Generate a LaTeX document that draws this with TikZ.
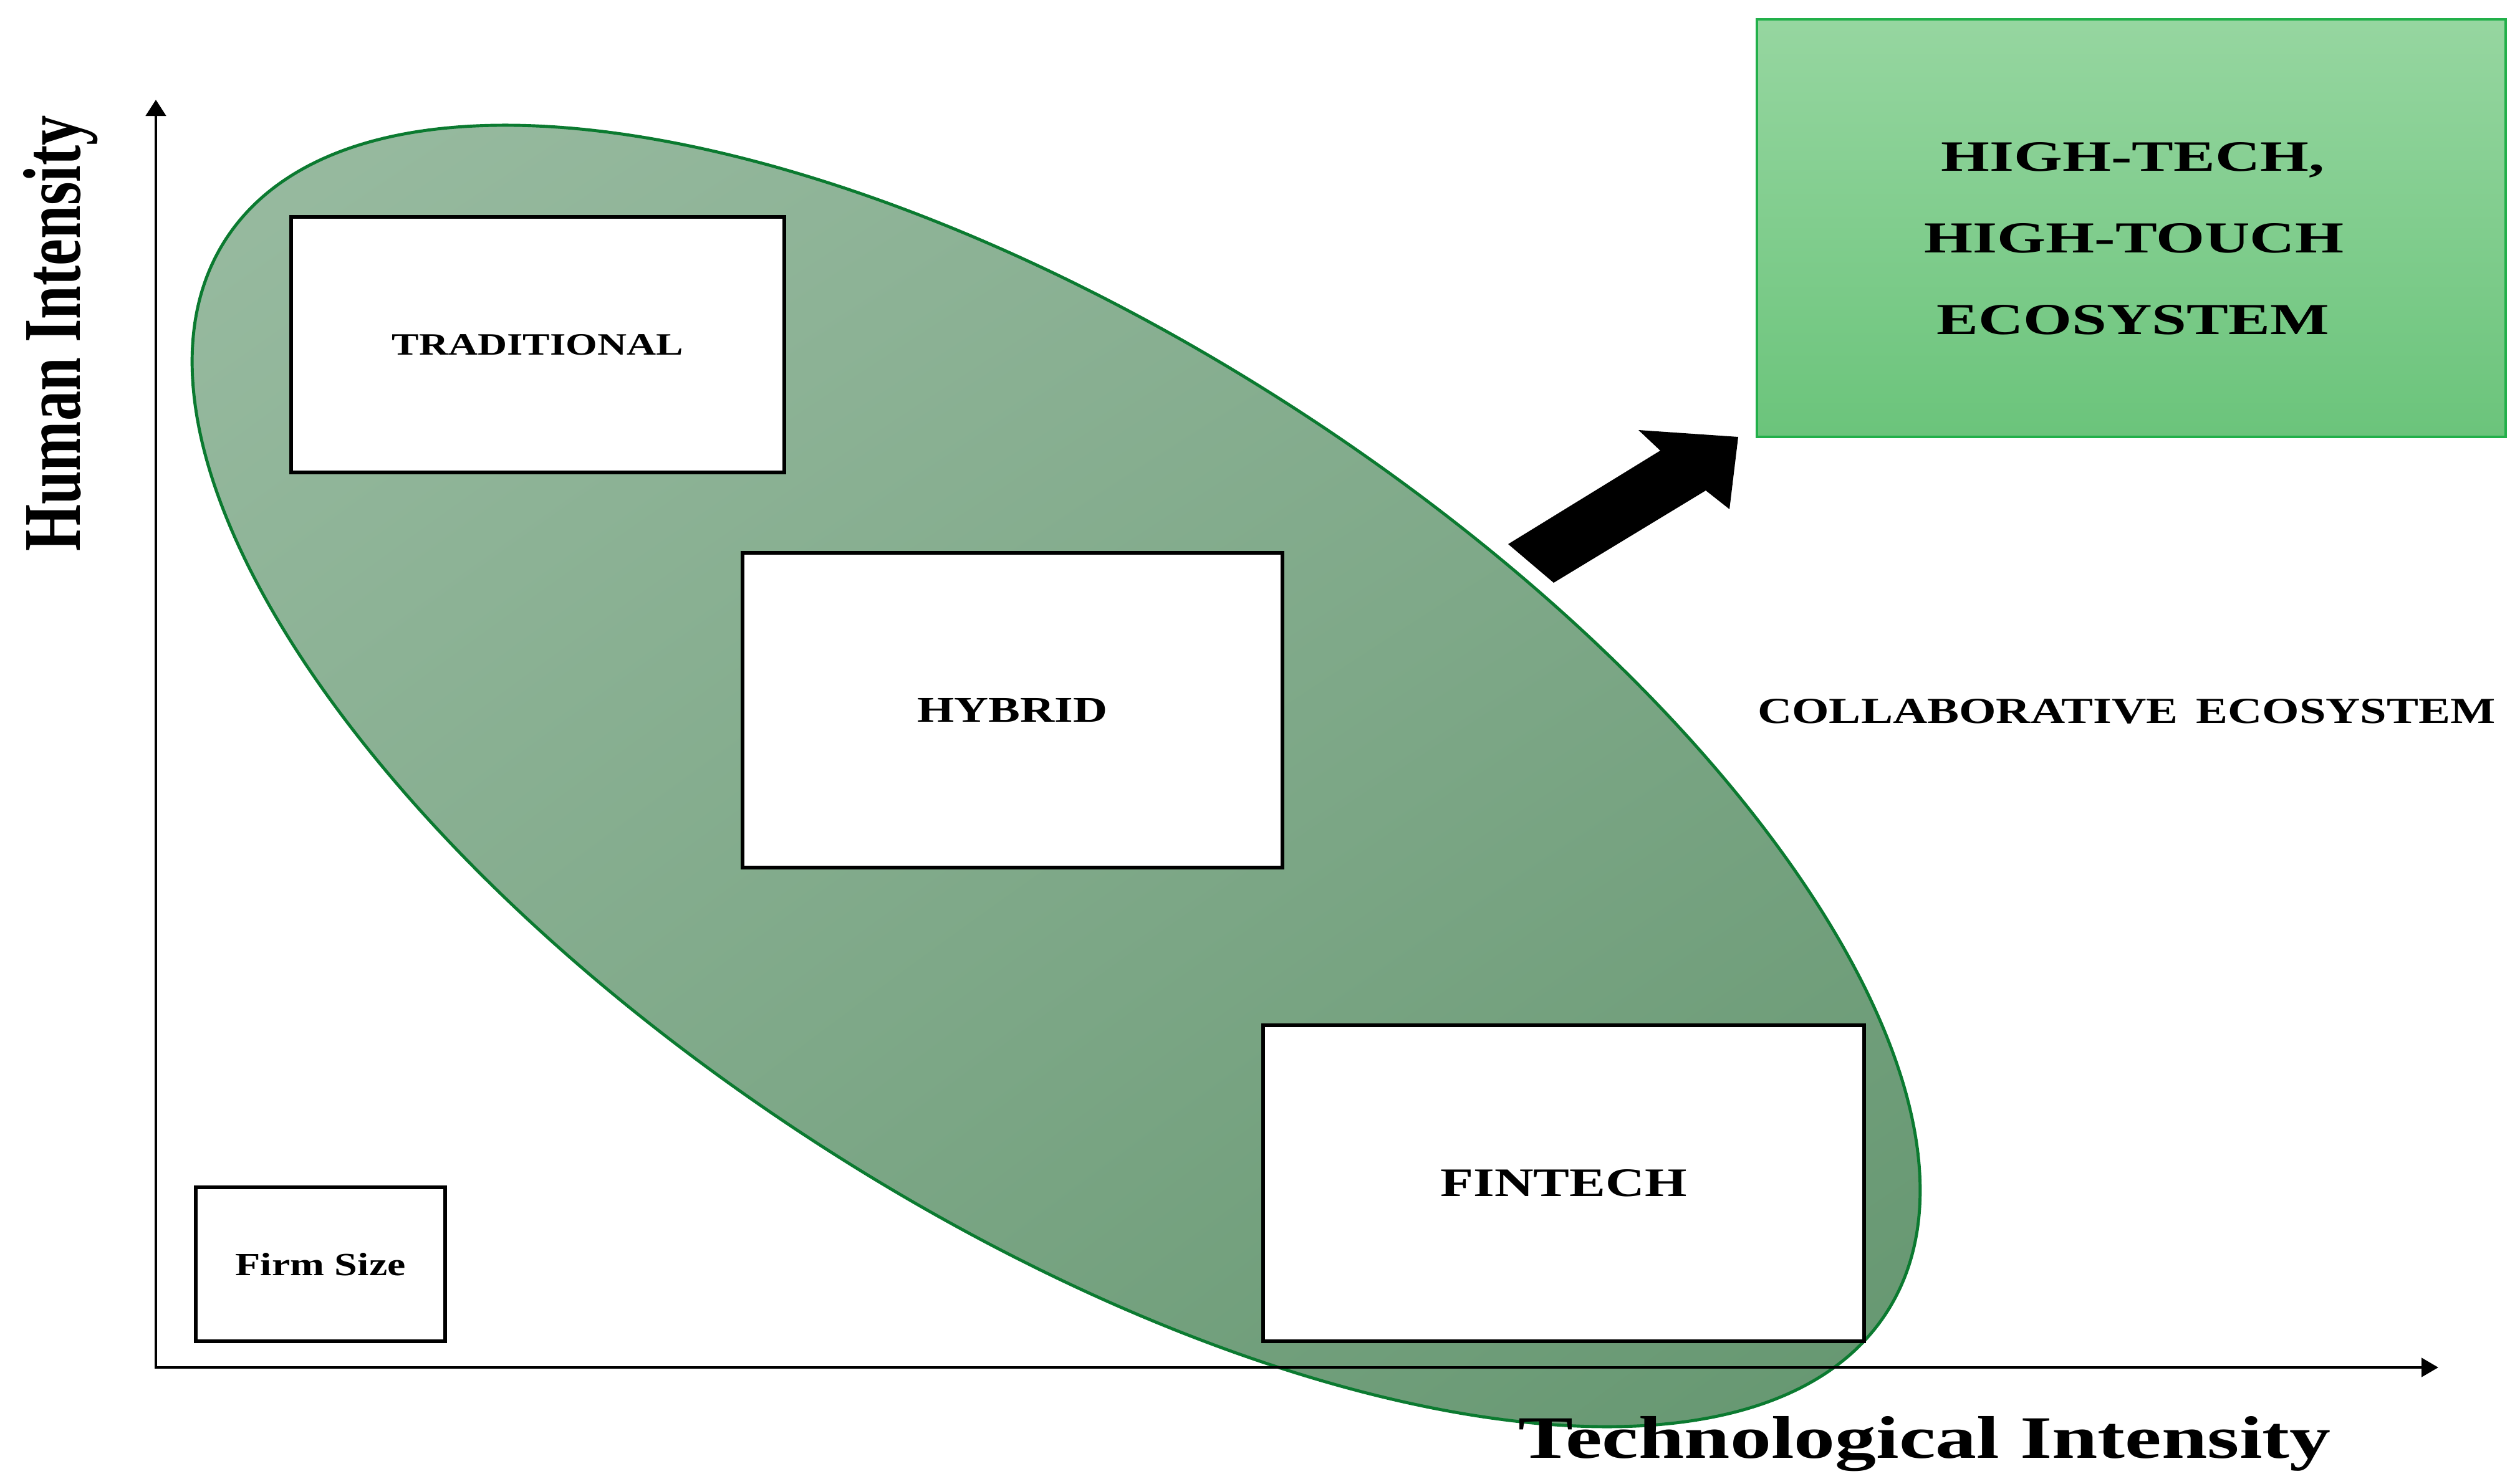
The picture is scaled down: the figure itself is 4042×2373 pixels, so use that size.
\documentclass[tikz,border=0pt]{standalone}
\usepackage{fontspec}
\setmainfont{Liberation Serif}
\usepackage{graphicx}
\usetikzlibrary{arrows.meta,shadings}
\definecolor{ellLight}{HTML}{9ABCA2}
\definecolor{ellMid}{HTML}{82AB8C}
\definecolor{ellDark}{HTML}{63956E}
\definecolor{ellLine}{HTML}{0B7A30}
\definecolor{boxTop}{HTML}{96D6A0}
\definecolor{boxBot}{HTML}{6BC47B}
\definecolor{boxLine}{HTML}{22B04A}
\newcommand{\fitt}[3]{\resizebox{#1cm}{#2cm}{#3}}
\tikzset{
  whitebox/.style={draw=black, line width=1.7pt, fill=white, inner sep=0pt, font=\bfseries},
  axisline/.style={line width=1.4pt, {Triangle[width=0.32cm,length=0.26cm]}-{Triangle[width=0.30cm,length=0.27cm]}},
  lbl/.style={inner sep=0pt, font=\bfseries},
}
\begin{document}
\begin{tikzpicture}[x=0.01cm,y=-0.01cm]
\useasboundingbox (0,0) rectangle (4042,2373);
\fill[white] (0,0) rectangle (4042,2373);

% ecosystem ellipse
\shadedraw[draw=ellLine, line width=1.4pt, upper left=ellLight, upper right=ellMid,
  lower left=ellMid, lower right=ellDark,
  rotate around={-32.88:(1694,1245)}] (1694,1245) ellipse [x radius=1586, y radius=703];

% axes
\coordinate (o) at (250,2194);
\coordinate (ytip) at (250,160);
\coordinate (xtip) at (3911,2194);
\draw[axisline] (ytip) -- (o) -- (xtip);

% boxes
\node[whitebox, minimum width=7.91cm, minimum height=4.10cm] (trad) at (862.5,553) {\fitt{4.67}{0.33}{TRADITIONAL}};
\node[whitebox, minimum width=8.66cm, minimum height=5.05cm] (hyb) at (1624,1139.5) {\fitt{3.05}{0.38}{HYBRID}};
\node[whitebox, minimum width=9.64cm, minimum height=5.07cm] (fin) at (2508,1898.5) {\fitt{3.95}{0.43}{FINTECH}};
\node[whitebox, minimum width=4.00cm, minimum height=2.47cm] (firm) at (514,2028.5) {\fitt{2.73}{0.36}{Firm Size}};

% high-tech high-touch box
\node[draw=boxLine, line width=1.1pt, top color=boxTop, bottom color=boxBot,
  minimum width=12.01cm, minimum height=6.70cm, inner sep=0pt] (hth) at (3418.5,366) {};
\node[lbl, anchor=base] (t1) at (3421,275) {\fitt{6.14}{0.46}{HIGH-TECH,}};
\node[lbl, anchor=base] (t2) at (3423,406) {\fitt{6.72}{0.47}{HIGH-TOUCH}};
\node[lbl, anchor=base] (t3) at (3421,537) {\fitt{6.29}{0.47}{ECOSYSTEM}};

% block arrow
\coordinate (a1) at (2419,873);
\coordinate (a2) at (2663,723);
\coordinate (a3) at (2628,690);
\coordinate (a4) at (2788,701);
\coordinate (a5) at (2774,817);
\coordinate (a6) at (2736,787);
\coordinate (a7) at (2492,935);
\fill[black] (a1) -- (a2) -- (a3) -- (a4) -- (a5) -- (a6) -- (a7) -- cycle;

% labels
\node[lbl, anchor=base] (collab) at (3411,1160) {\fitt{11.83}{0.39}{COLLABORATIVE \hspace{0.12em}ECOSYSTEM}};
\node[lbl, rotate=90, anchor=base] (hum) at (128,535) {\fitt{6.99}{0.91}{Human Intensity}};
\node[lbl, anchor=base] (tech) at (3087,2339) {\fitt{13.02}{0.67}{Technological Intensity}};
\end{tikzpicture}
\end{document}
